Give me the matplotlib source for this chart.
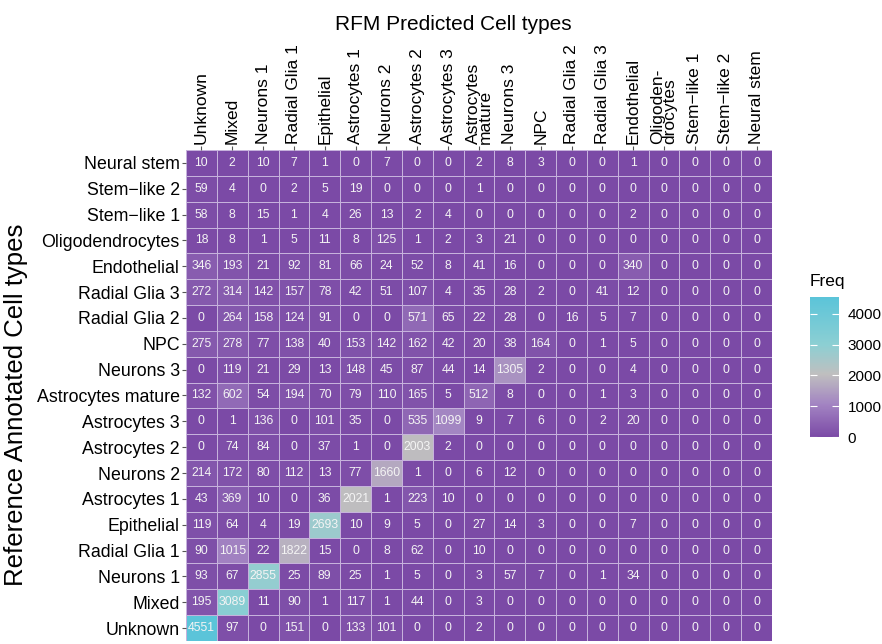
import numpy as np
import matplotlib
matplotlib.use('Agg')
import matplotlib.pyplot as plt
from matplotlib.colors import LinearSegmentedColormap, Normalize

plt.rcParams['font.family'] = ['Liberation Sans', 'DejaVu Sans']

# 세포 유형 (아래 -> 위, 왼쪽 -> 오른쪽 순서 동일)
cell_types = ['Unknown', 'Mixed', 'Neurons 1', 'Radial Glia 1', 'Epithelial',
              'Astrocytes 1', 'Neurons 2', 'Astrocytes 2', 'Astrocytes 3',
              'Astrocytes mature', 'Neurons 3', 'NPC', 'Radial Glia 2',
              'Radial Glia 3', 'Endothelial', 'Oligodendrocytes',
              'Stem\u2212like 1', 'Stem\u2212like 2', 'Neural stem']

# 열(예측) 라벨은 긴 이름을 두 줄로
pred_labels = ['Unknown', 'Mixed', 'Neurons 1', 'Radial Glia 1', 'Epithelial',
               'Astrocytes 1', 'Neurons 2', 'Astrocytes 2', 'Astrocytes 3',
               'Astrocytes\nmature', 'Neurons 3', 'NPC', 'Radial Glia 2',
               'Radial Glia 3', 'Endothelial', 'Oligoden-\ndrocytes',
               'Stem\u2212like 1', 'Stem\u2212like 2', 'Neural stem']

# 참조 라벨별 예측 빈도 (행 = 참조, 열 = 예측)
freq = [
    [4551, 97, 0, 151, 0, 133, 101, 0, 0, 2, 0, 0, 0, 0, 0, 0, 0, 0, 0],       # Unknown
    [195, 3089, 11, 90, 1, 117, 1, 44, 0, 3, 0, 0, 0, 0, 0, 0, 0, 0, 0],       # Mixed
    [93, 67, 2855, 25, 89, 25, 1, 5, 0, 3, 57, 7, 0, 1, 34, 0, 0, 0, 0],       # Neurons 1
    [90, 1015, 22, 1822, 15, 0, 8, 62, 0, 10, 0, 0, 0, 0, 0, 0, 0, 0, 0],      # Radial Glia 1
    [119, 64, 4, 19, 2693, 10, 9, 5, 0, 27, 14, 3, 0, 0, 7, 0, 0, 0, 0],       # Epithelial
    [43, 369, 10, 0, 36, 2021, 1, 223, 10, 0, 0, 0, 0, 0, 0, 0, 0, 0, 0],      # Astrocytes 1
    [214, 172, 80, 112, 13, 77, 1660, 1, 0, 6, 12, 0, 0, 0, 0, 0, 0, 0, 0],    # Neurons 2
    [0, 74, 84, 0, 37, 1, 0, 2003, 2, 0, 0, 0, 0, 0, 0, 0, 0, 0, 0],           # Astrocytes 2
    [0, 1, 136, 0, 101, 35, 0, 535, 1099, 9, 7, 6, 0, 2, 20, 0, 0, 0, 0],      # Astrocytes 3
    [132, 602, 54, 194, 70, 79, 110, 165, 5, 512, 8, 0, 0, 1, 3, 0, 0, 0, 0],  # Astrocytes mature
    [0, 119, 21, 29, 13, 148, 45, 87, 44, 14, 1305, 2, 0, 0, 4, 0, 0, 0, 0],   # Neurons 3
    [275, 278, 77, 138, 40, 153, 142, 162, 42, 20, 38, 164, 0, 1, 5, 0, 0, 0, 0],  # NPC
    [0, 264, 158, 124, 91, 0, 0, 571, 65, 22, 28, 0, 16, 5, 7, 0, 0, 0, 0],    # Radial Glia 2
    [272, 314, 142, 157, 78, 42, 51, 107, 4, 35, 28, 2, 0, 41, 12, 0, 0, 0, 0],  # Radial Glia 3
    [346, 193, 21, 92, 81, 66, 24, 52, 8, 41, 16, 0, 0, 0, 340, 0, 0, 0, 0],   # Endothelial
    [18, 8, 1, 5, 11, 8, 125, 1, 2, 3, 21, 0, 0, 0, 0, 0, 0, 0, 0],            # Oligodendrocytes
    [58, 8, 15, 1, 4, 26, 13, 2, 4, 0, 0, 0, 0, 0, 2, 0, 0, 0, 0],             # Stem-like 1
    [59, 4, 0, 2, 5, 19, 0, 0, 0, 1, 0, 0, 0, 0, 0, 0, 0, 0, 0],               # Stem-like 2
    [10, 2, 10, 7, 1, 0, 7, 0, 0, 2, 8, 3, 0, 0, 1, 0, 0, 0, 0],               # Neural stem
]
freq = np.array(freq)

# 보라 -> 회색 -> 청록 그라디언트
cmap = LinearSegmentedColormap.from_list(
    'freq', [(0.0, '#7b4aa6'), (0.23, '#a283c2'), (0.45, '#bfbfbf'),
             (0.66, '#8ccfd3'), (1.0, '#5bc4d9')])
norm = Normalize(vmin=0, vmax=freq.max())

fig = plt.figure(figsize=(8.82, 6.44), dpi=100)
ax = fig.add_axes([0.2109, 0.0047, 0.6644, 0.7624])

n = len(cell_types)
mesh = ax.pcolormesh(np.arange(n + 1), np.arange(n + 1), freq, cmap=cmap, norm=norm,
                     edgecolors='#c6b2dc', linewidth=0.6)

# 각 칸에 빈도 표시
for i in range(n):
    for j in range(n):
        ax.text(j + 0.5, i + 0.5, f'{freq[i, j]}', ha='center', va='center',
                fontsize=8.8, color='#f4f4f4')

ax.set_xlim(0, n)
ax.set_ylim(0, n)
for s in ax.spines.values():
    s.set_visible(False)

# 축 눈금 / 라벨
ax.xaxis.tick_top()
ax.xaxis.set_label_position('top')
ax.set_xticks(np.arange(n) + 0.5)
ax.set_xticklabels(pred_labels, rotation=90, fontsize=12.5, ma='left',
                   linespacing=0.75)
ax.set_yticks(np.arange(n) + 0.5)
ax.set_yticklabels(cell_types, fontsize=12.8)
ax.tick_params(axis='both', length=3, width=0.8, color='#555555', pad=1.5)

ax.set_xlabel('RFM Predicted Cell types', fontsize=15, labelpad=10)
ax.xaxis.label.set_x(0.456)
ax.set_ylabel('Reference Annotated Cell types', fontsize=18.5)
ax.yaxis.set_label_coords(-0.27, 0.48)

# 범례 (컬러바)
cax = fig.add_axes([0.9184, 0.3214, 0.0329, 0.2174])
cb = fig.colorbar(mesh, cax=cax)
cb.outline.set_visible(False)
cb.set_ticks([0, 1000, 2000, 3000, 4000])
cax.tick_params(direction='in', length=5, width=0.8, color='white',
                left=True, right=True, labelsize=11, pad=6)
cax.set_title('Freq', fontsize=12.5, loc='left', pad=8)

fig.savefig('out.png', dpi=100)
